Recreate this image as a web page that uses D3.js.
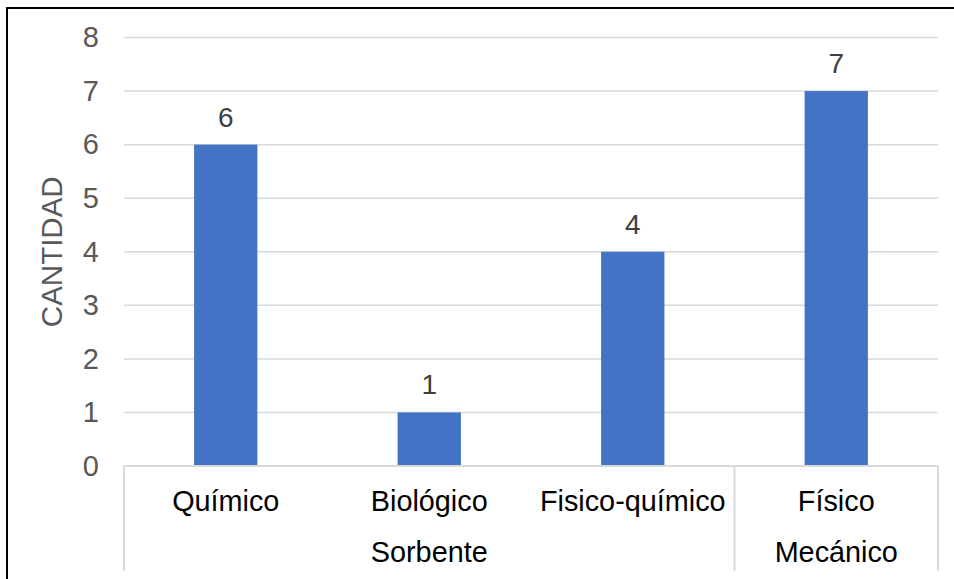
<!DOCTYPE html>
<html>
<head>
<meta charset="utf-8">
<script src="https://cdn.jsdelivr.net/npm/d3@7"></script>
<style>
  html, body { margin: 0; padding: 0; background: #fff; }
  svg { display: block; font-family: "Liberation Sans", Arial, sans-serif; }
</style>
</head>
<body>
<svg id="chart" width="954" height="579"></svg>
<script>
// Treatment types and how many of each were found
const categories = ["Químico", "Biológico", "Fisico-químico", "Físico"];
const values = [6, 1, 4, 7];
// Second-level grouping of the categories
const groups = ["Sorbente", "Mecánico"];
const groupSizes = [3, 1];
const yTicks = [0, 1, 2, 3, 4, 5, 6, 7, 8];
const yTitle = "CANTIDAD";

const svg = d3.select("#chart");
const W = 954, H = 579;
const plot = { left: 124, right: 938, top: 37.5, bottom: 466 };

// Outer frame of the chart area
svg.append("rect")
  .attr("x", 7).attr("y", 8)
  .attr("width", W + 10).attr("height", H + 10)
  .attr("fill", "#fff")
  .attr("stroke", "#000").attr("stroke-width", 2);

const x = d3.scaleBand().domain(categories).range([plot.left, plot.right]).padding(0);
const y = d3.scaleLinear().domain([0, 8]).range([plot.bottom, plot.top]);
const barW = x.bandwidth() * 0.311;

// Horizontal gridlines
svg.append("g")
  .selectAll("line")
  .data(yTicks.filter(t => t > 0))
  .join("line")
  .attr("x1", plot.left).attr("x2", plot.right)
  .attr("y1", d => y(d)).attr("y2", d => y(d))
  .attr("stroke", "#d9d9d9").attr("stroke-width", 1.5);

// Y axis tick labels
const yAxis = d3.axisLeft(y).tickValues(yTicks).tickSize(0).tickPadding(0).tickFormat(d3.format("d"));
const gy = svg.append("g").attr("transform", `translate(${plot.left - 25},0)`).call(yAxis);
gy.select(".domain").remove();
gy.selectAll("text")
  .attr("fill", "#595959")
  .style("font-size", "29px")
  .style("font-family", "'Liberation Sans', Arial, sans-serif");

// Axis title
svg.append("text")
  .attr("transform", `translate(62,${(plot.top + plot.bottom) / 2 + 0}) rotate(-90)`)
  .attr("text-anchor", "middle")
  .attr("fill", "#595959")
  .style("font-size", "29.5px")
  .text(yTitle);

// Bars
svg.append("g")
  .selectAll("rect")
  .data(categories)
  .join("rect")
  .attr("x", (d) => x(d) + (x.bandwidth() - barW) / 2)
  .attr("width", barW)
  .attr("y", (d, i) => y(values[i]))
  .attr("height", (d, i) => y(0) - y(values[i]))
  .attr("fill", "#4472c4");

// Value labels above bars
svg.append("g")
  .selectAll("text")
  .data(categories)
  .join("text")
  .attr("x", d => x(d) + x.bandwidth() / 2)
  .attr("y", (d, i) => y(values[i]) - 18)
  .attr("text-anchor", "middle")
  .attr("fill", "#404040")
  .style("font-size", "28px")
  .text((d, i) => values[i]);

// Category axis baseline
svg.append("line")
  .attr("x1", plot.left).attr("x2", plot.right)
  .attr("y1", plot.bottom).attr("y2", plot.bottom)
  .attr("stroke", "#d9d9d9").attr("stroke-width", 2);

// Group boundaries on the multi-level axis
const boundaries = [0];
groupSizes.reduce((acc, n) => { boundaries.push(acc + n); return acc + n; }, 0);
const boundaryX = boundaries.map(b => plot.left + b * x.step());
svg.append("g")
  .selectAll("line")
  .data(boundaryX)
  .join("line")
  .attr("x1", d => d).attr("x2", d => d)
  .attr("y1", plot.bottom).attr("y2", 571)
  .attr("stroke", "#d9d9d9").attr("stroke-width", 2);

// Category labels
svg.append("g")
  .selectAll("text")
  .data(categories)
  .join("text")
  .attr("x", d => x(d) + x.bandwidth() / 2)
  .attr("y", 511)
  .attr("text-anchor", "middle")
  .attr("fill", "#000")
  .style("font-size", "28.8px")
  .text(d => d);

// Group labels
svg.append("g")
  .selectAll("text")
  .data(groups)
  .join("text")
  .attr("x", (d, i) => (boundaryX[i] + boundaryX[i + 1]) / 2)
  .attr("y", 562)
  .attr("text-anchor", "middle")
  .attr("fill", "#000")
  .style("font-size", "28.8px")
  .text(d => d);
</script>
</body>
</html>
